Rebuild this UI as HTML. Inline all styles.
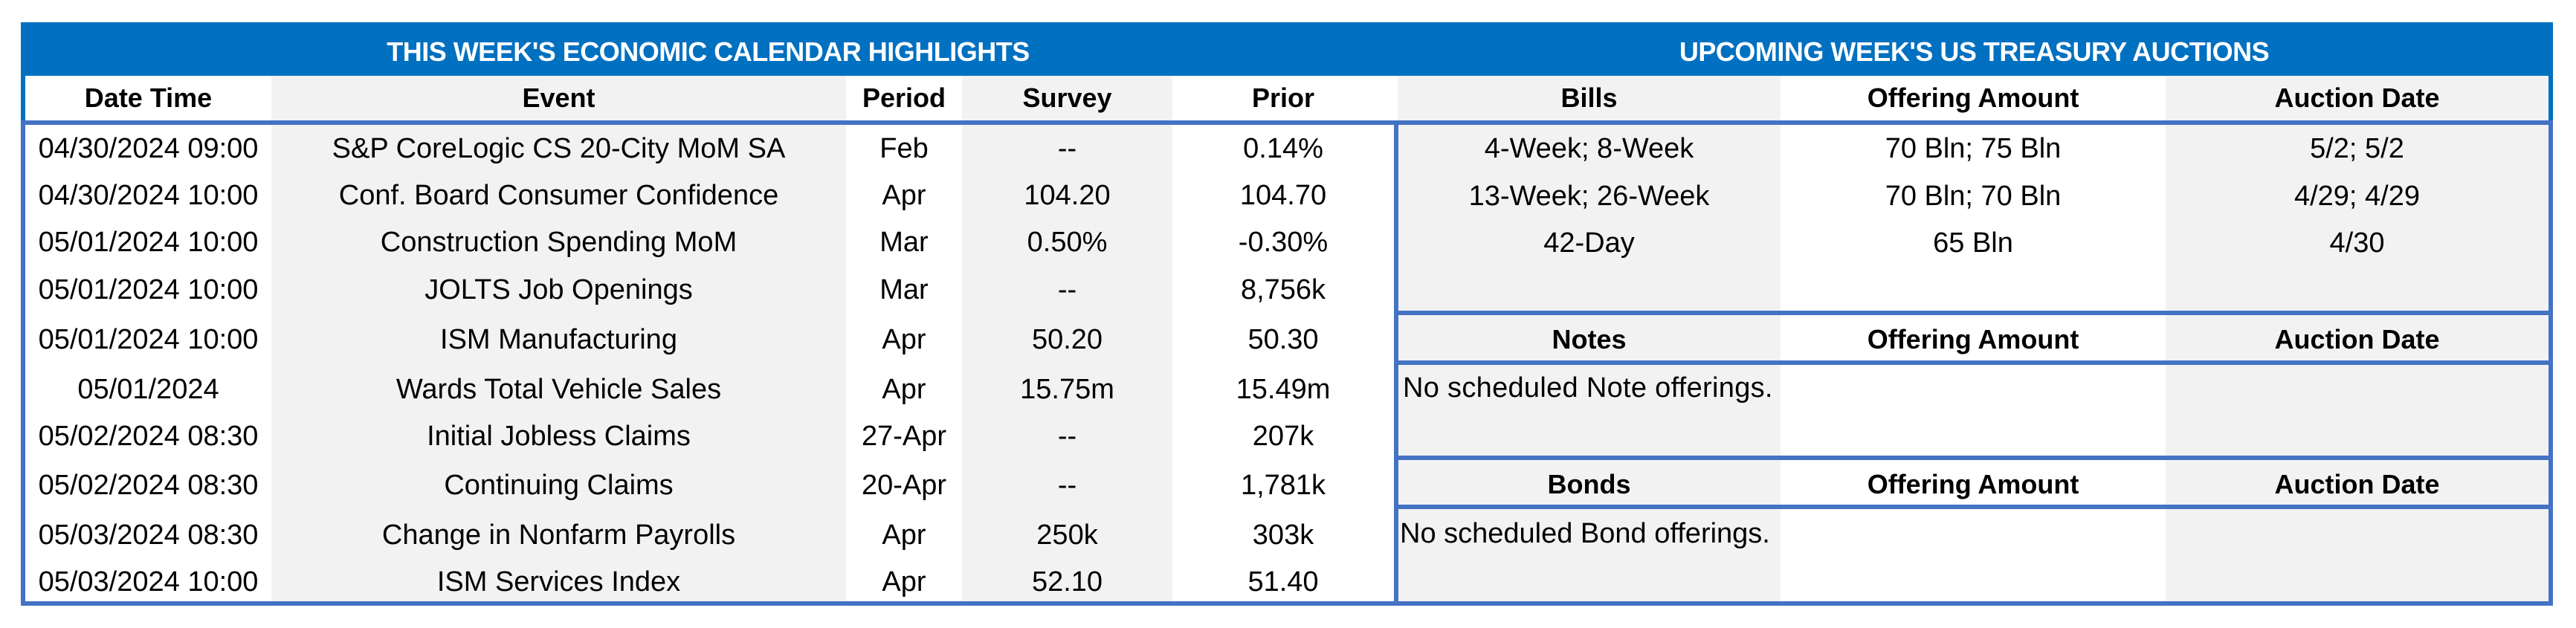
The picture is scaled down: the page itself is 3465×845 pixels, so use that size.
<!DOCTYPE html>
<html><head><meta charset="utf-8"><style>
html,body{margin:0;padding:0;background:#fff;}
body{width:3465px;height:845px;position:relative;overflow:hidden;font-family:"Liberation Sans",Arial,sans-serif;color:#000;}
.a{position:absolute;}
.g{background:#F2F2F2;}
.b{background:#4472C4;}
.t{position:absolute;height:44px;line-height:44px;font-size:38px;text-align:center;white-space:nowrap;}
.h{font-weight:bold;font-size:36px;}
</style></head><body>
<div class="a" style="left:28px;top:30px;width:3406px;height:72px;background:#0070C0"></div>
<div class="t" style="left:28px;width:1849px;top:48px;color:#fff;font-weight:bold;font-size:36px;letter-spacing:-0.5px">THIS WEEK'S ECONOMIC CALENDAR HIGHLIGHTS</div>
<div class="t" style="left:1877px;width:1557px;top:48px;color:#fff;font-weight:bold;font-size:36px;letter-spacing:-0.5px">UPCOMING WEEK'S US TREASURY AUCTIONS</div>
<div class="a g" style="left:365px;top:102px;width:773px;height:707px"></div>
<div class="a g" style="left:1294px;top:102px;width:283px;height:707px"></div>
<div class="a g" style="left:1880px;top:102px;width:515px;height:707px"></div>
<div class="a g" style="left:2913px;top:102px;width:515px;height:707px"></div>
<div class="a b" style="left:28px;top:102px;width:6px;height:712px"></div>
<div class="a" style="left:28px;top:102px;width:6px;height:60px;background:#0070C0"></div>
<div class="a b" style="left:3428px;top:102px;width:6px;height:712px"></div>
<div class="a" style="left:3428px;top:102px;width:6px;height:60px;background:#0070C0"></div>
<div class="a b" style="left:28px;top:162px;width:3406px;height:6px"></div>
<div class="a b" style="left:28px;top:809px;width:3406px;height:6px"></div>
<div class="a b" style="left:1875px;top:162px;width:6px;height:652px"></div>
<div class="a b" style="left:1877px;top:418px;width:1557px;height:6px"></div>
<div class="a b" style="left:1877px;top:485px;width:1557px;height:6px"></div>
<div class="a b" style="left:1877px;top:613px;width:1557px;height:6px"></div>
<div class="a b" style="left:1877px;top:679px;width:1557px;height:6px"></div>

<div class="t h" style="left:34px;width:331px;top:110px">Date Time</div>
<div class="t h" style="left:365px;width:773px;top:110px">Event</div>
<div class="t h" style="left:1138px;width:156px;top:110px">Period</div>
<div class="t h" style="left:1294px;width:283px;top:110px">Survey</div>
<div class="t h" style="left:1577px;width:298px;top:110px">Prior</div>
<div class="t h" style="left:1880px;width:515px;top:110px">Bills</div>
<div class="t h" style="left:2395px;width:518px;top:110px">Offering Amount</div>
<div class="t h" style="left:2913px;width:515px;top:110px">Auction Date</div>

<div class="t h" style="left:1880px;width:515px;top:435px">Notes</div>
<div class="t h" style="left:2395px;width:518px;top:435px">Offering Amount</div>
<div class="t h" style="left:2913px;width:515px;top:435px">Auction Date</div>
<div class="t h" style="left:1880px;width:515px;top:630px">Bonds</div>
<div class="t h" style="left:2395px;width:518px;top:630px">Offering Amount</div>
<div class="t h" style="left:2913px;width:515px;top:630px">Auction Date</div>

<div class="t" style="left:34px;width:331px;top:178px">04/30/2024 09:00</div>
<div class="t" style="left:365px;width:773px;top:178px">S&amp;P CoreLogic CS 20-City MoM SA</div>
<div class="t" style="left:1138px;width:156px;top:178px">Feb</div>
<div class="t" style="left:1294px;width:283px;top:178px">--</div>
<div class="t" style="left:1577px;width:298px;top:178px">0.14%</div>

<div class="t" style="left:34px;width:331px;top:241px">04/30/2024 10:00</div>
<div class="t" style="left:365px;width:773px;top:241px">Conf. Board Consumer Confidence</div>
<div class="t" style="left:1138px;width:156px;top:241px">Apr</div>
<div class="t" style="left:1294px;width:283px;top:241px">104.20</div>
<div class="t" style="left:1577px;width:298px;top:241px">104.70</div>

<div class="t" style="left:34px;width:331px;top:304px">05/01/2024 10:00</div>
<div class="t" style="left:365px;width:773px;top:304px">Construction Spending MoM</div>
<div class="t" style="left:1138px;width:156px;top:304px">Mar</div>
<div class="t" style="left:1294px;width:283px;top:304px">0.50%</div>
<div class="t" style="left:1577px;width:298px;top:304px">-0.30%</div>

<div class="t" style="left:34px;width:331px;top:368px">05/01/2024 10:00</div>
<div class="t" style="left:365px;width:773px;top:368px">JOLTS Job Openings</div>
<div class="t" style="left:1138px;width:156px;top:368px">Mar</div>
<div class="t" style="left:1294px;width:283px;top:368px">--</div>
<div class="t" style="left:1577px;width:298px;top:368px">8,756k</div>

<div class="t" style="left:34px;width:331px;top:435px">05/01/2024 10:00</div>
<div class="t" style="left:365px;width:773px;top:435px">ISM Manufacturing</div>
<div class="t" style="left:1138px;width:156px;top:435px">Apr</div>
<div class="t" style="left:1294px;width:283px;top:435px">50.20</div>
<div class="t" style="left:1577px;width:298px;top:435px">50.30</div>

<div class="t" style="left:34px;width:331px;top:502px">05/01/2024</div>
<div class="t" style="left:365px;width:773px;top:502px">Wards Total Vehicle Sales</div>
<div class="t" style="left:1138px;width:156px;top:502px">Apr</div>
<div class="t" style="left:1294px;width:283px;top:502px">15.75m</div>
<div class="t" style="left:1577px;width:298px;top:502px">15.49m</div>

<div class="t" style="left:34px;width:331px;top:565px">05/02/2024 08:30</div>
<div class="t" style="left:365px;width:773px;top:565px">Initial Jobless Claims</div>
<div class="t" style="left:1138px;width:156px;top:565px">27-Apr</div>
<div class="t" style="left:1294px;width:283px;top:565px">--</div>
<div class="t" style="left:1577px;width:298px;top:565px">207k</div>

<div class="t" style="left:34px;width:331px;top:631px">05/02/2024 08:30</div>
<div class="t" style="left:365px;width:773px;top:631px">Continuing Claims</div>
<div class="t" style="left:1138px;width:156px;top:631px">20-Apr</div>
<div class="t" style="left:1294px;width:283px;top:631px">--</div>
<div class="t" style="left:1577px;width:298px;top:631px">1,781k</div>

<div class="t" style="left:34px;width:331px;top:698px">05/03/2024 08:30</div>
<div class="t" style="left:365px;width:773px;top:698px">Change in Nonfarm Payrolls</div>
<div class="t" style="left:1138px;width:156px;top:698px">Apr</div>
<div class="t" style="left:1294px;width:283px;top:698px">250k</div>
<div class="t" style="left:1577px;width:298px;top:698px">303k</div>

<div class="t" style="left:34px;width:331px;top:761px">05/03/2024 10:00</div>
<div class="t" style="left:365px;width:773px;top:761px">ISM Services Index</div>
<div class="t" style="left:1138px;width:156px;top:761px">Apr</div>
<div class="t" style="left:1294px;width:283px;top:761px">52.10</div>
<div class="t" style="left:1577px;width:298px;top:761px">51.40</div>

<div class="t" style="left:1880px;width:515px;top:178px">4-Week; 8-Week</div>
<div class="t" style="left:2395px;width:518px;top:178px">70 Bln; 75 Bln</div>
<div class="t" style="left:2913px;width:515px;top:178px">5/2; 5/2</div>
<div class="t" style="left:1880px;width:515px;top:242px">13-Week; 26-Week</div>
<div class="t" style="left:2395px;width:518px;top:242px">70 Bln; 70 Bln</div>
<div class="t" style="left:2913px;width:515px;top:242px">4/29; 4/29</div>
<div class="t" style="left:1880px;width:515px;top:305px">42-Day</div>
<div class="t" style="left:2395px;width:518px;top:305px">65 Bln</div>
<div class="t" style="left:2913px;width:515px;top:305px">4/30</div>

<div class="t" style="left:1887px;top:500px;text-align:left;font-size:38px;letter-spacing:0.3px">No scheduled Note offerings.</div>
<div class="t" style="left:1883px;top:696px;text-align:left;font-size:38px;letter-spacing:0px">No scheduled Bond offerings.</div>
</body></html>
